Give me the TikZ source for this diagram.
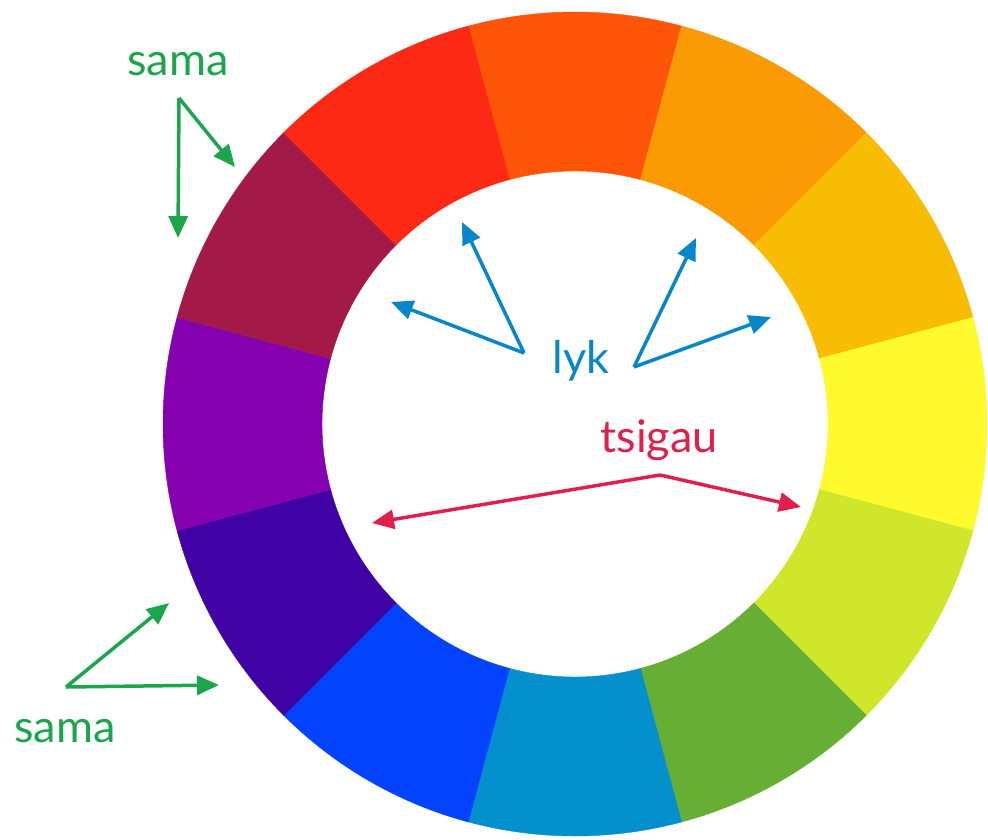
\documentclass[tikz,border=0pt]{standalone}
\usepackage{fontspec}
\setmainfont{Lato}
\usetikzlibrary{arrows.meta,calc}
\definecolor{cA}{HTML}{FE5508}
\definecolor{cB}{HTML}{FA9A04}
\definecolor{cC}{HTML}{F8BC05}
\definecolor{cD}{HTML}{FFFA2E}
\definecolor{cE}{HTML}{D0E62B}
\definecolor{cF}{HTML}{66AE34}
\definecolor{cG}{HTML}{0390CD}
\definecolor{cH}{HTML}{0443FE}
\definecolor{cI}{HTML}{4002A5}
\definecolor{cJ}{HTML}{8501AF}
\definecolor{cK}{HTML}{A31A48}
\definecolor{cL}{HTML}{FE2914}
\definecolor{samagreen}{HTML}{1BA64B}
\definecolor{lykblue}{HTML}{0787C9}
\definecolor{tsired}{HTML}{E01F4B}
\tikzset{
  lbl/.style={font=\fontsize{45}{54}\selectfont, anchor=base, inner sep=0pt},
  pointer/.style={line width=3.5pt, -{Triangle[length=22pt,width=19pt]}, line join=miter},
}
\begin{document}
\begin{tikzpicture}[x=1pt,y=-1pt]
\useasboundingbox (0,0) rectangle (988,839);
\coordinate (c) at (575,424);
% colour wheel (visual angle theta -> tikz angle -theta)
\foreach \a/\col in {-90/cA,-60/cB,-30/cC,0/cD,30/cE,60/cF,90/cG,120/cH,150/cI,180/cJ,210/cK,240/cL}{
  \pgfmathsetmacro{\sa}{\a-15}
  \pgfmathsetmacro{\ea}{\a+15}
  \fill[\col, draw=\col, line width=0.4pt] (c) ++(\sa:412) arc[start angle=\sa, end angle=\ea, radius=412]
    -- ($(c)+(\ea:253)$) arc[start angle=\ea, end angle=\sa, radius=253] -- cycle;
}
% labels
\node[lbl, text=samagreen] (samatop) at (178,75) {sama};
\node[lbl, text=samagreen] (samabot) at (65,742) {sama};
\node[lbl, text=lykblue] (lyk) at (581,373) {lyk};
\node[lbl, text=tsired] (tsigau) at (659,452) {tsigau};
% pointer vertices and tips
\coordinate (gv1) at (179,98);
\coordinate (gt1) at (235,167);
\coordinate (gt2) at (178,238);
\coordinate (gv2) at (66,687);
\coordinate (gt3) at (169,603);
\coordinate (gt4) at (219,685);
\coordinate (bv1) at (524,353);
\coordinate (bt1) at (391,302);
\coordinate (bt2) at (462,222);
\coordinate (bv2) at (634,367);
\coordinate (bt3) at (696,238);
\coordinate (bt4) at (771,317);
\coordinate (rv) at (660,475);
\coordinate (rt1) at (372,523);
\coordinate (rt2) at (801,507);
% arrows
\draw[pointer, samagreen] (gv1) -- (gt1);
\draw[pointer, samagreen] (gv1) -- (gt2);
\draw[pointer, samagreen] (gv2) -- (gt3);
\draw[pointer, samagreen] (gv2) -- (gt4);
\draw[pointer, lykblue] (bv1) -- (bt1);
\draw[pointer, lykblue] (bv1) -- (bt2);
\draw[pointer, lykblue] (bv2) -- (bt3);
\draw[pointer, lykblue] (bv2) -- (bt4);
\draw[pointer, tsired] (rv) -- (rt1);
\draw[pointer, tsired] (rv) -- (rt2);
\end{tikzpicture}
\end{document}
